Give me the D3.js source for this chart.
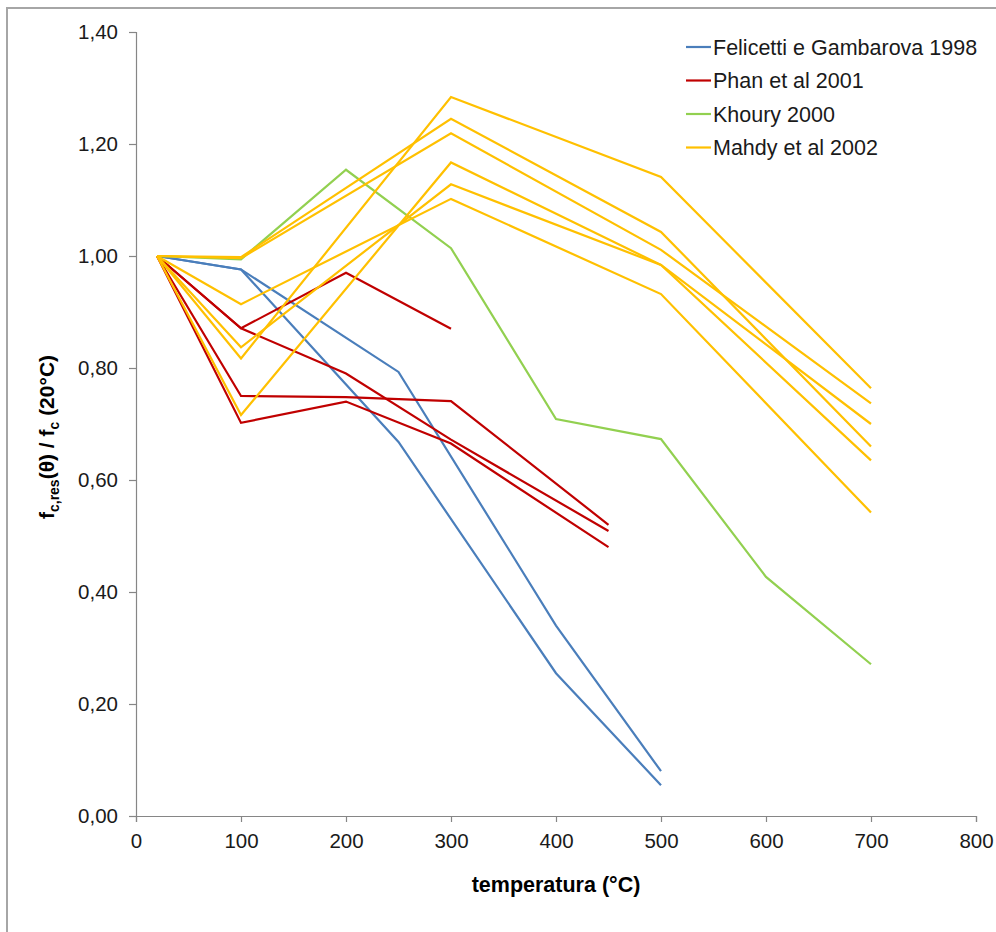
<!DOCTYPE html>
<html>
<head>
<meta charset="utf-8">
<script src="https://cdn.jsdelivr.net/npm/d3@7"></script>
<style>
  html, body { margin: 0; padding: 0; background: #ffffff; }
  svg { display: block; font-family: "Liberation Sans", Arial, sans-serif; }
</style>
</head>
<body>
<svg id="chart" width="996" height="932"></svg>
<script>
// Residual compressive strength ratio vs. temperature, by study.
// Each study has several test series; each series is a list of [temperature, ratio].
const felicetti = [
  [[20, 1.00], [100, 0.976], [250, 0.793], [400, 0.340], [500, 0.080]],
  [[20, 1.00], [100, 0.976], [250, 0.668], [400, 0.255], [500, 0.055]]
];
const phan = [
  [[20, 1.00], [100, 0.871], [200, 0.970], [300, 0.870]],
  [[20, 1.00], [100, 0.750], [200, 0.748], [300, 0.741], [450, 0.520]],
  [[20, 1.00], [100, 0.702], [200, 0.740], [300, 0.665], [450, 0.480]],
  [[20, 1.00], [100, 0.871], [200, 0.790], [300, 0.672], [450, 0.509]]
];
const khoury = [
  [[20, 1.00], [100, 0.994], [200, 1.154], [300, 1.014], [400, 0.709], [500, 0.673], [600, 0.427], [700, 0.271]]
];
const mahdy = [
  [[20, 1.00], [100, 0.817], [300, 1.284], [500, 1.141], [700, 0.764]],
  [[20, 1.00], [100, 0.998], [300, 1.245], [500, 1.043], [700, 0.660]],
  [[20, 1.00], [100, 0.996], [300, 1.219], [500, 1.011], [700, 0.737]],
  [[20, 1.00], [100, 0.716], [300, 1.167], [500, 0.984], [700, 0.700]],
  [[20, 1.00], [100, 0.837], [300, 1.128], [500, 0.984], [700, 0.635]],
  [[20, 1.00], [100, 0.914], [300, 1.102], [500, 0.932], [700, 0.542]]
];

const seriesNames = ["Felicetti e Gambarova 1998", "Phan et al 2001", "Khoury 2000", "Mahdy et al 2002"];
const seriesColors = ["#4A7EBB", "#C00000", "#92D050", "#FFC000"];
const studies = [felicetti, phan, khoury, mahdy];

const xTicks = [0, 100, 200, 300, 400, 500, 600, 700, 800];
const yTicks = [0, 0.2, 0.4, 0.6, 0.8, 1.0, 1.2, 1.4];

const svg = d3.select("#chart");

// chart-area frame
svg.append("path")
  .attr("d", "M7,1000 L7,8 L1000,8")
  .attr("fill", "none")
  .attr("stroke", "#a6a6a6")
  .attr("stroke-width", 2);

const x = d3.scaleLinear().domain([0, 800]).range([136, 976]);
const y = d3.scaleLinear().domain([0, 1.4]).range([816, 32]);

const fmt = d => d3.format(".2f")(d).replace(".", ",");
const axisColor = "#868686";

// y axis
const yAxis = svg.append("g")
  .attr("transform", `translate(${x(0)},0)`)
  .call(d3.axisLeft(y).tickValues(yTicks).tickFormat(fmt).tickSize(7).tickPadding(11));
// x axis
const xAxis = svg.append("g")
  .attr("transform", `translate(0,${y(0)})`)
  .call(d3.axisBottom(x).tickValues(xTicks).tickFormat(d3.format("d")).tickSize(6).tickPadding(11));

[yAxis, xAxis].forEach(g => {
  g.select(".domain").attr("stroke", axisColor).attr("stroke-width", 1.2);
  g.selectAll(".tick line").attr("stroke", axisColor).attr("stroke-width", 1.2);
  g.selectAll(".tick text")
    .attr("fill", "#1a1a1a")
    .style("font-family", "'Liberation Sans', Arial, sans-serif")
    .style("font-size", "20.5px");
});

// lines
const line = d3.line().x(d => x(d[0])).y(d => y(d[1]));
studies.forEach((study, i) => {
  svg.append("g").selectAll("path")
    .data(study)
    .join("path")
    .attr("d", line)
    .attr("fill", "none")
    .attr("stroke", seriesColors[i])
    .attr("stroke-width", 2.2)
    .attr("stroke-linejoin", "miter");
});

// legend
const legend = svg.append("g").attr("transform", "translate(686,47)");
seriesNames.forEach((name, i) => {
  const row = legend.append("g").attr("transform", `translate(0,${i * 33.5})`);
  row.append("line")
    .attr("x1", 0).attr("x2", 25).attr("y1", 0).attr("y2", 0)
    .attr("stroke", seriesColors[i]).attr("stroke-width", 2.2);
  row.append("text")
    .attr("x", 27).attr("y", 0).attr("dy", "0.35em")
    .attr("fill", "#1a1a1a")
    .style("font-size", "21.5px")
    .text(name);
});

// axis titles
svg.append("text")
  .attr("x", 556).attr("y", 892)
  .attr("text-anchor", "middle")
  .style("font-size", "21.5px")
  .style("font-weight", "bold")
  .attr("fill", "#000")
  .text("temperatura (°C)");

const yt = svg.append("text")
  .attr("transform", "translate(54,437) rotate(-90)")
  .attr("text-anchor", "middle")
  .style("font-size", "21px")
  .style("font-weight", "bold")
  .attr("fill", "#000");
yt.append("tspan").text("f");
yt.append("tspan").attr("dy", 5).style("font-size", "14px").text("c,res");
yt.append("tspan").attr("dy", -5).text("(θ) / f");
yt.append("tspan").attr("dy", 5).style("font-size", "14px").text("c");
yt.append("tspan").attr("dy", -5).text(" (20°C)");
</script>
</body>
</html>
